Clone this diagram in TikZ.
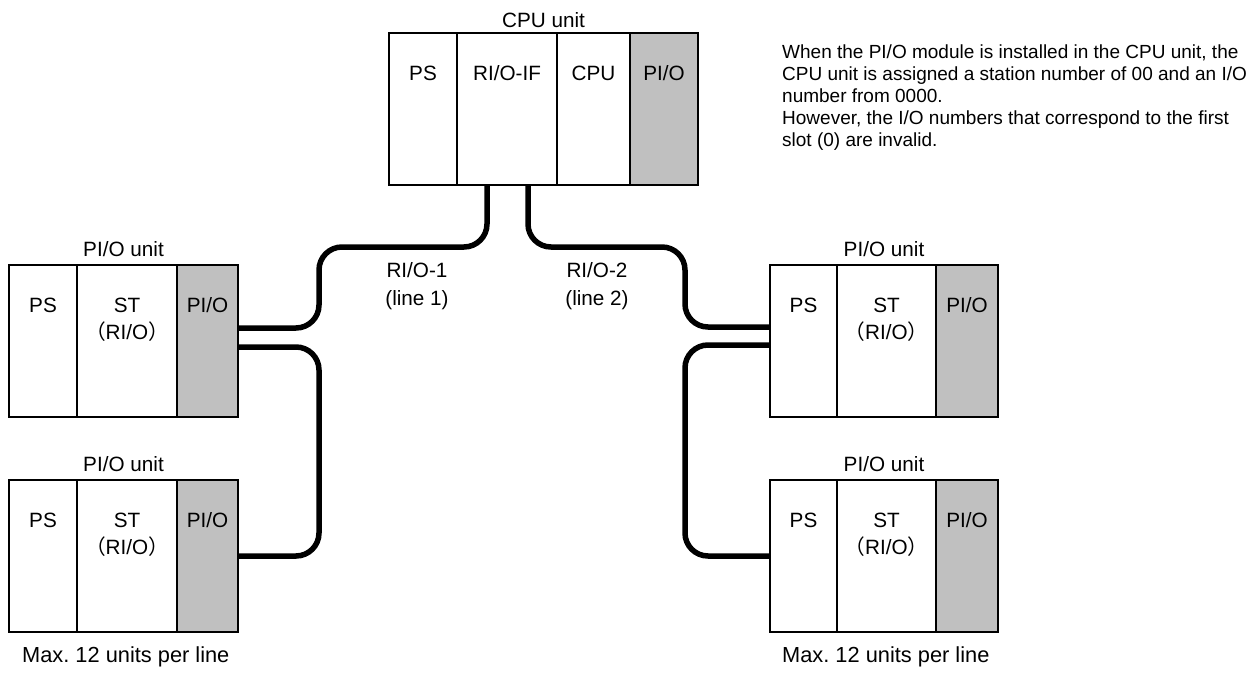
\documentclass[tikz,border=0pt]{standalone}
\usepackage{fontspec}
\setmainfont{Liberation Sans}
\newfontfamily\cjkfont{Noto Sans CJK JP}
\usetikzlibrary{calc}
\definecolor{piogray}{HTML}{C0C0C0}
\frenchspacing
\begin{document}
\begin{tikzpicture}[x=1pt,y=-1pt,
  slot/.style={draw, line width=1.3pt, minimum height=152pt, anchor=north west, inner sep=0pt, outer sep=0pt},
  pio/.style={slot, fill=piogray},
  txt/.style={font=\fontsize{20.7}{24}\selectfont, inner sep=0pt},
  cable/.style={line width=5.5pt, rounded corners=23pt}]
\useasboundingbox[fill=white] (0,0) rectangle (1258,673);

% ---------- CPU unit ----------
\node[slot, minimum width=68pt] (cpu-ps) at (389,33) {};
\node[slot, minimum width=100pt] (cpu-rio) at (cpu-ps.north east) {};
\node[slot, minimum width=73pt] (cpu-cpu) at (cpu-rio.north east) {};
\node[pio, minimum width=68pt] (cpu-pio) at (cpu-cpu.north east) {};
\node[txt, anchor=base] (cpu-lbl) at ($($(cpu-ps.north west)!0.5!(cpu-pio.north east)$)+(0,-6)$) {CPU unit};
\node[txt, anchor=base] (cpu-t1) at ($(cpu-ps.north)+(0,47)$) {PS};
\node[txt, anchor=base] (cpu-t2) at ($(cpu-rio.north)+(0,47)$) {RI/O-IF};
\node[txt, anchor=base] (cpu-t3) at ($(cpu-cpu.north)+(0,47)$) {CPU};
\node[txt, anchor=base] (cpu-t4) at ($(cpu-pio.north)+(0,47)$) {PI/O};

% ---------- left upper unit ----------
\node[slot, minimum width=68pt] (lu1-ps) at (9,265) {};
\node[slot, minimum width=100pt] (lu1-st) at (lu1-ps.north east) {};
\node[pio, minimum width=61pt] (lu1-pio) at (lu1-st.north east) {};
\node[txt, anchor=base] (lu1-lbl) at ($($(lu1-ps.north west)!0.5!(lu1-pio.north east)$)+(0,-9)$) {PI/O unit};
\node[txt, anchor=base] (lu1-t1) at ($(lu1-ps.north)+(0,47)$) {PS};
\node[txt, anchor=base] (lu1-t2) at ($(lu1-st.north)+(0,47)$) {ST};
\node[txt, anchor=base] (lu1-t3) at ($(lu1-st.north)+(0,74)$) {{\cjkfont （}RI/O{\cjkfont ）}};
\node[txt, anchor=base] (lu1-t4) at ($(lu1-pio.north)+(0,47)$) {PI/O};

% ---------- left lower unit ----------
\node[slot, minimum width=68pt] (lu2-ps) at (9,480) {};
\node[slot, minimum width=100pt] (lu2-st) at (lu2-ps.north east) {};
\node[pio, minimum width=61pt] (lu2-pio) at (lu2-st.north east) {};
\node[txt, anchor=base] (lu2-lbl) at ($($(lu2-ps.north west)!0.5!(lu2-pio.north east)$)+(0,-9)$) {PI/O unit};
\node[txt, anchor=base] (lu2-t1) at ($(lu2-ps.north)+(0,47)$) {PS};
\node[txt, anchor=base] (lu2-t2) at ($(lu2-st.north)+(0,47)$) {ST};
\node[txt, anchor=base] (lu2-t3) at ($(lu2-st.north)+(0,74)$) {{\cjkfont （}RI/O{\cjkfont ）}};
\node[txt, anchor=base] (lu2-t4) at ($(lu2-pio.north)+(0,47)$) {PI/O};

% ---------- right upper unit ----------
\node[slot, minimum width=67pt] (ru1-ps) at (770,265) {};
\node[slot, minimum width=99pt] (ru1-st) at (ru1-ps.north east) {};
\node[pio, minimum width=62pt] (ru1-pio) at (ru1-st.north east) {};
\node[txt, anchor=base] (ru1-lbl) at ($($(ru1-ps.north west)!0.5!(ru1-pio.north east)$)+(0,-9)$) {PI/O unit};
\node[txt, anchor=base] (ru1-t1) at ($(ru1-ps.north)+(0,47)$) {PS};
\node[txt, anchor=base] (ru1-t2) at ($(ru1-st.north)+(0,47)$) {ST};
\node[txt, anchor=base] (ru1-t3) at ($(ru1-st.north)+(0,74)$) {{\cjkfont （}RI/O{\cjkfont ）}};
\node[txt, anchor=base] (ru1-t4) at ($(ru1-pio.north)+(0,47)$) {PI/O};

% ---------- right lower unit ----------
\node[slot, minimum width=67pt] (ru2-ps) at (770,480) {};
\node[slot, minimum width=99pt] (ru2-st) at (ru2-ps.north east) {};
\node[pio, minimum width=62pt] (ru2-pio) at (ru2-st.north east) {};
\node[txt, anchor=base] (ru2-lbl) at ($($(ru2-ps.north west)!0.5!(ru2-pio.north east)$)+(0,-9)$) {PI/O unit};
\node[txt, anchor=base] (ru2-t1) at ($(ru2-ps.north)+(0,47)$) {PS};
\node[txt, anchor=base] (ru2-t2) at ($(ru2-st.north)+(0,47)$) {ST};
\node[txt, anchor=base] (ru2-t3) at ($(ru2-st.north)+(0,74)$) {{\cjkfont （}RI/O{\cjkfont ）}};
\node[txt, anchor=base] (ru2-t4) at ($(ru2-pio.north)+(0,47)$) {PI/O};

% ---------- cables ----------
\draw[cable] ([xshift=-20pt]cpu-rio.south) |- (319,247) |- ([yshift=13pt]lu1-pio.east);
\draw[cable] ([xshift=21pt]cpu-rio.south) |- (685,247) |- ([yshift=14pt]ru1-ps.west);
\draw[cable] ([yshift=-6pt]lu1-pio.east) -| (319,556) -- (lu2-pio.east);
\draw[cable] ([yshift=-4pt]ru1-ps.west) -| (685,556) -- (ru2-ps.west);

% ---------- labels ----------
\node[txt, align=center, font=\fontsize{20.7}{28}\selectfont] (line1) at (417,286) {RI/O-1\\(line 1)};
\node[txt, align=center, font=\fontsize{20.7}{28}\selectfont] (line2) at (597,286) {RI/O-2\\(line 2)};

\node[txt, align=left, anchor=north west, font=\fontsize{19}{22}\selectfont] (note) at (782,45) {When the PI/O module is installed in the CPU unit, the\\CPU unit is assigned a station number of 00 and an I/O\\number from 0000.\\However, the I/O numbers that correspond to the first\\slot (0) are invalid.};

\node[txt, anchor=base west, font=\fontsize{21.8}{24}\selectfont] (max1) at (22,662) {Max. 12 units per line};
\node[txt, anchor=base west, font=\fontsize{21.8}{24}\selectfont] (max2) at (782,662) {Max. 12 units per line};
\end{tikzpicture}
\end{document}
